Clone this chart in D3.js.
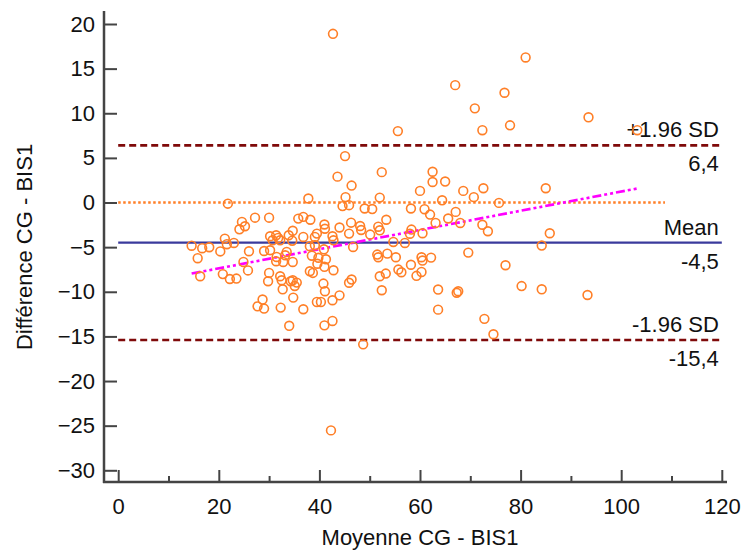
<!DOCTYPE html>
<html><head><meta charset="utf-8">
<script src="https://cdn.jsdelivr.net/npm/d3@7"></script>
<style>
body{margin:0;background:#fff}
svg{display:block}
text{font-family:"Liberation Sans",Arial,sans-serif;}
</style>
</head><body>
<svg id="chart" width="745" height="552"></svg>
<script>
// ---- data ----
const meanValues = [
42.7,45.1,43.6,46.4,52.4,37.8,45.2,52.0,55.6,67.0,76.8,70.9,81.0,72.4,77.9,93.5,103.2,62.5,62.5,65.0,
60.0,68.6,72.6,85.0,70.7,64.4,21.8,75.7,44.6,45.9,49.0,50.5,58.2,60.9,67.1,62.0,27.2,30.0,35.8,24.6,
25.2,24.1,21.2,30.2,31.4,31.8,30.7,32.2,33.9,34.7,34.6,36.8,38.2,41.0,41.1,44.0,46.3,48.1,48.3,45.9,
50.1,51.7,52.0,53.3,42.6,42.8,39.5,39.1,36.8,54.7,58.3,58.0,60.5,63.1,65.6,68.0,72.4,73.5,85.8,23.0,
21.6,14.6,16.7,18.1,20.3,15.8,26.0,29.0,24.9,25.8,20.8,22.2,23.5,16.3,30.2,31.4,31.5,33.5,33.2,32.8,
30.0,29.8,32.2,32.5,34.3,35.1,38.1,39.1,40.9,46.7,57.0,84.2,34.7,38.5,39.8,39.6,41.3,41.0,38.1,38.7,
42.8,51.5,51.7,53.5,55.2,60.3,62.2,60.5,69.6,58.2,56.3,55.7,59.3,60.3,77.0,53.2,52.0,34.7,35.5,40.8,
46.4,45.9,41.1,44.0,52.4,63.6,67.3,67.6,80.2,84.2,93.3,32.7,34.8,63.6,72.8,74.6,28.7,27.7,29.0,32.3,
36.8,34.0,39.5,40.3,42.6,41.0,42.6,48.7,42.3
];
const diffValues = [
18.9,5.2,2.9,1.9,3.4,0.45,0.6,0.55,8.0,13.15,12.3,10.55,16.25,8.1,8.65,9.55,8.1,3.45,2.3,2.35,
1.3,1.3,1.6,1.6,0.6,0.25,-0.13,-0.04,-0.4,-0.3,-0.67,-0.73,-0.67,-0.75,-1.05,-1.35,-1.7,-1.7,-1.8,-2.17,
-2.66,-3.0,-4.04,-3.78,-3.67,-3.97,-4.23,-4.23,-3.67,-3.16,-4.28,-1.61,-1.93,-2.46,-2.94,-2.8,-2.26,-2.63,-3.08,-3.48,
-3.59,-2.71,-3.11,-1.93,-3.78,-4.23,-3.48,-3.86,-3.86,-4.42,-3.03,-3.5,-3.44,-2.29,-1.79,-2.29,-2.49,-3.22,-3.44,-4.53,
-4.67,-4.84,-5.12,-5.01,-5.48,-6.24,-5.46,-5.43,-6.66,-7.61,-8.02,-8.57,-8.52,-8.26,-5.35,-6.58,-6.1,-5.54,-5.91,-6.66,
-7.89,-8.82,-8.26,-8.71,-8.82,-9.35,-4.9,-4.79,-5.24,-4.98,-4.53,-4.82,-6.66,-5.96,-6.19,-6.86,-6.36,-7.2,-7.7,-7.89,
-7.59,-5.83,-6.13,-5.72,-6.13,-6.13,-6.17,-6.5,-5.61,-6.97,-7.81,-7.51,-8.21,-7.78,-7.03,-7.96,-8.26,-8.71,-8.97,-9.08,
-8.63,-8.99,-9.94,-10.4,-9.83,-9.75,-10.11,-9.94,-9.36,-9.72,-10.36,-9.72,-10.65,-12.0,-13.03,-14.76,-10.87,-11.63,-11.88,-11.77,
-11.96,-13.81,-11.14,-11.14,-10.95,-13.76,-13.27,-15.89,-25.53
];
const xTicks = [0, 20, 40, 60, 80, 100, 120];
const xMinorTicks = [10, 30, 50, 70, 90, 110];
const yTicks = [20, 15, 10, 5, 0, -5, -10, -15, -20, -25, -30];
const limitNames = ["+1.96 SD", "Mean", "-1.96 SD"];
const limitValues = [6.4, -4.5, -15.4];
const limitLabels = ["6,4", "-4,5", "-15,4"];
const zeroLineRange = [0, 108.7];
const regressionCoef = [-9.53, 0.1076]; // intercept, slope
const xTitle = "Moyenne CG - BIS1";
const yTitle = "Différence CG - BIS1";

// ---- chart ----
const svg = d3.select("#chart");
const x = d3.scaleLinear().domain([0, 120]).range([118.2, 721.8]);
const y = d3.scaleLinear().domain([-30, 20]).range([470.3, 24]);
const axisColor = "#444";
const orange = "#ff7f27";

// y axis
const yAxis = svg.append("g").attr("transform", "translate(104,0)")
  .call(d3.axisLeft(y).tickValues(yTicks).tickSizeInner(-13).tickSizeOuter(0).tickPadding(9));
yAxis.select(".domain").remove();
yAxis.selectAll(".tick line").attr("stroke", axisColor).attr("stroke-width", 2);
yAxis.selectAll(".tick text").attr("font-size", 22).attr("fill", "#111")
  .style("font-family", '"Liberation Sans",Arial,sans-serif');

// x axis
const xAxis = svg.append("g").attr("transform", "translate(0,482)")
  .call(d3.axisBottom(x).tickValues(xTicks).tickSizeInner(-12).tickSizeOuter(0).tickPadding(16));
xAxis.select(".domain").remove();
xAxis.selectAll(".tick line").attr("stroke", axisColor).attr("stroke-width", 2);
xAxis.selectAll(".tick text").attr("font-size", 22).attr("fill", "#111")
  .style("font-family", '"Liberation Sans",Arial,sans-serif');
const xMinor = svg.append("g").attr("transform", "translate(0,482)")
  .call(d3.axisBottom(x).tickValues(xMinorTicks).tickSizeInner(-6).tickSizeOuter(0).tickFormat(""));
xMinor.select(".domain").remove();
xMinor.selectAll(".tick line").attr("stroke", axisColor).attr("stroke-width", 2);

// axis lines
svg.append("line").attr("x1", 104).attr("x2", 104).attr("y1", 11).attr("y2", 483)
  .attr("stroke", axisColor).attr("stroke-width", 2.5);
svg.append("line").attr("x1", 103).attr("x2", 727).attr("y1", 482).attr("y2", 482)
  .attr("stroke", axisColor).attr("stroke-width", 2.5);

// zero line
svg.append("line")
  .attr("x1", x(zeroLineRange[0])).attr("x2", x(zeroLineRange[1]))
  .attr("y1", y(0)).attr("y2", y(0))
  .attr("stroke", orange).attr("stroke-width", 2.5).attr("stroke-dasharray", "2.5,2.5");

// limit lines
limitValues.forEach((v, i) => {
  const isMean = i === 1;
  svg.append("line")
    .attr("x1", x(0)).attr("x2", x(120)).attr("y1", y(v)).attr("y2", y(v))
    .attr("stroke", isMean ? "#3a3a9c" : "#7f0a0a")
    .attr("stroke-width", isMean ? 2.2 : 2.6)
    .attr("stroke-dasharray", isMean ? null : "7,4");
  svg.append("text").attr("x", x(120) - 3).attr("y", y(v) - 8)
    .attr("text-anchor", "end").attr("font-size", 22).attr("fill", "#111").text(limitNames[i]);
  svg.append("text").attr("x", x(120) - 3).attr("y", y(v) + 26)
    .attr("text-anchor", "end").attr("font-size", 22).attr("fill", "#111").text(limitLabels[i]);
});

// regression line
const xMin = d3.min(meanValues), xMax = d3.max(meanValues);
svg.append("line")
  .attr("x1", x(xMin)).attr("x2", x(xMax))
  .attr("y1", y(regressionCoef[0] + regressionCoef[1] * xMin))
  .attr("y2", y(regressionCoef[0] + regressionCoef[1] * xMax))
  .attr("stroke", "#ff00ff").attr("stroke-width", 2.6)
  .attr("stroke-dasharray", "9,3,3,3,3,3");

// points
svg.append("g").selectAll("circle").data(meanValues).join("circle")
  .attr("cx", d => x(d))
  .attr("cy", (d, i) => y(diffValues[i]))
  .attr("r", 4.4)
  .attr("fill", "none")
  .attr("stroke", orange)
  .attr("stroke-width", 1.6);

// titles
svg.append("text").attr("x", x(60)).attr("y", 545).attr("text-anchor", "middle")
  .attr("font-size", 22).attr("fill", "#111").text(xTitle);
svg.append("text").attr("transform", "translate(32,247) rotate(-90)").attr("text-anchor", "middle")
  .attr("font-size", 22).attr("fill", "#111").text(yTitle);
</script>
</body></html>
